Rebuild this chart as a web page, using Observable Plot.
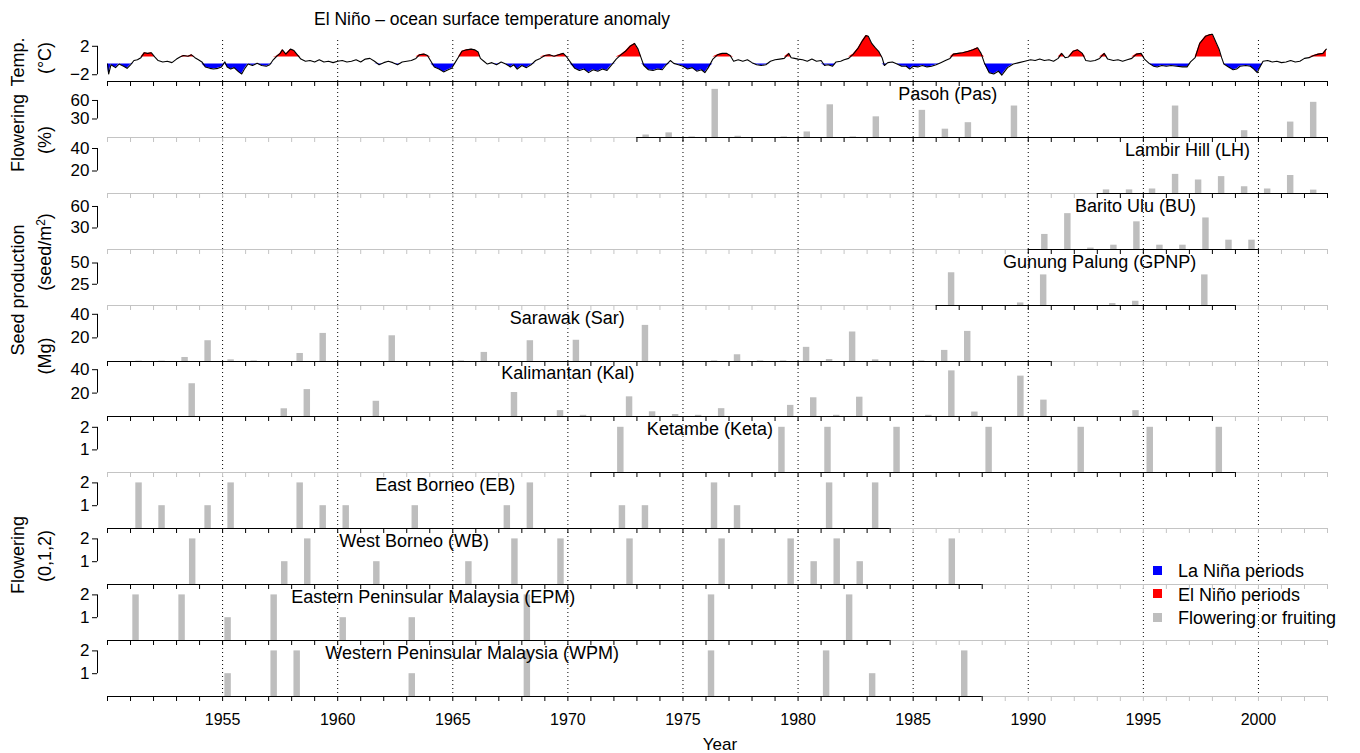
<!DOCTYPE html>
<html><head><meta charset="utf-8">
<script src="https://cdn.jsdelivr.net/npm/d3@7"></script>
<script src="https://cdn.jsdelivr.net/npm/@observablehq/plot@0.6"></script>
<style>
body{margin:0;background:#fff;font-family:"Liberation Sans",Arial,Helvetica,sans-serif;}
#wrap{position:relative;width:1360px;height:753px;overflow:hidden;background:#fff;}
.lab{position:absolute;white-space:nowrap;color:#000;transform:translate(-50%,-50%);line-height:1;}
.rot{transform:translate(-50%,-50%) rotate(-90deg);}
.leg{position:absolute;left:1153px;font-size:18px;white-space:nowrap;line-height:1;}
.leg span{display:inline-block;width:9px;height:9px;margin-right:16px;vertical-align:middle;position:relative;top:-2px;}
</style></head><body><div id="wrap"></div>
<script>
// ---------- DATA ----------
const tickYears = d3.range(1950, 2004);
const labelYears = [1955, 1960, 1965, 1970, 1975, 1980, 1985, 1990, 1995, 2000];

// Niño-3 sea surface temperature anomaly (°C): [time, anomaly]
const tempAnomaly = [
[1950.00,-0.5],[1950.05,-1.9],[1950.15,-0.6],[1950.35,-1.0],[1950.5,-0.5],[1950.7,-0.8],[1950.85,-1.1],
[1951.0,-0.6],[1951.15,0.0],[1951.3,0.1],[1951.45,0.4],[1951.6,1.1],[1951.75,1.0],[1951.9,1.1],
[1952.05,0.5],[1952.2,0.0],[1952.4,-0.2],[1952.6,-0.1],[1952.8,-0.3],[1953.0,0.2],[1953.15,0.5],
[1953.3,0.7],[1953.5,0.6],[1953.65,0.8],[1953.8,0.4],[1953.95,0.1],[1954.1,-0.2],[1954.25,-0.9],
[1954.45,-1.1],[1954.6,-1.2],[1954.8,-1.1],[1954.95,-0.9],[1955.1,-0.2],[1955.2,-0.9],[1955.35,-1.2],
[1955.5,-1.0],[1955.7,-1.6],[1955.83,-1.9],[1955.95,-1.2],[1956.1,-0.5],[1956.3,-0.7],[1956.5,-0.4],
[1956.7,-0.7],[1956.9,-0.8],[1957.05,-0.6],[1957.2,0.1],[1957.35,0.6],[1957.5,1.0],[1957.6,1.5],
[1957.75,0.9],[1957.95,1.6],[1958.1,1.4],[1958.25,0.8],[1958.4,0.2],[1958.6,-0.1],[1958.8,0.0],
[1959.0,-0.2],[1959.2,0.1],[1959.4,-0.2],[1959.6,-0.1],[1959.8,-0.3],[1960.0,-0.1],[1960.2,0.0],
[1960.4,-0.2],[1960.6,-0.1],[1960.8,0.1],[1961.0,-0.2],[1961.2,0.2],[1961.4,0.3],[1961.6,-0.1],
[1961.8,-0.6],[1962.0,-0.3],[1962.2,-0.1],[1962.4,-0.3],[1962.6,-0.6],[1962.8,-0.2],[1963.0,-0.1],
[1963.2,0.0],[1963.4,0.3],[1963.55,0.8],[1963.75,0.9],[1963.9,0.7],[1964.05,-0.1],[1964.2,-0.9],
[1964.4,-1.2],[1964.6,-1.6],[1964.8,-1.3],[1964.95,-1.1],[1965.1,-0.3],[1965.25,0.5],[1965.4,1.3],
[1965.6,1.5],[1965.8,1.6],[1965.95,1.5],[1966.1,1.2],[1966.2,0.3],[1966.35,-0.1],[1966.5,-0.5],
[1966.7,-0.3],[1966.9,-0.6],[1967.1,-0.2],[1967.3,-0.5],[1967.5,-0.9],[1967.65,-0.6],[1967.8,-1.2],
[1968.0,-0.7],[1968.2,-1.0],[1968.4,-0.6],[1968.6,0.0],[1968.8,0.3],[1969.0,0.7],[1969.2,0.8],
[1969.4,0.6],[1969.6,0.8],[1969.8,1.0],[1969.95,0.5],[1970.1,-0.2],[1970.3,-1.1],[1970.5,-1.4],
[1970.7,-1.2],[1970.9,-1.7],[1971.1,-1.3],[1971.3,-1.5],[1971.5,-1.2],[1971.7,-1.4],[1971.9,-0.6],
[1972.1,0.2],[1972.3,0.8],[1972.5,1.3],[1972.7,2.0],[1972.9,2.4],[1973.05,1.6],[1973.2,0.2],
[1973.3,-0.7],[1973.5,-1.3],[1973.7,-1.4],[1973.9,-1.2],[1974.1,-1.3],[1974.25,-0.7],[1974.45,0.0],
[1974.6,-0.4],[1974.8,-0.6],[1975.0,-0.8],[1975.2,-1.2],[1975.4,-1.0],[1975.6,-1.5],[1975.8,-1.3],
[1975.95,-1.7],[1976.1,-1.0],[1976.3,0.2],[1976.5,0.8],[1976.7,1.0],[1976.9,1.0],[1977.05,0.7],
[1977.2,-0.1],[1977.4,0.1],[1977.6,-0.1],[1977.8,0.1],[1978.0,-0.3],[1978.2,-0.6],[1978.4,-0.7],
[1978.6,-0.6],[1978.8,-0.1],[1979.0,0.1],[1979.2,0.2],[1979.4,0.3],[1979.6,1.0],[1979.7,0.4],
[1979.85,0.3],[1980.0,0.2],[1980.2,0.1],[1980.4,-0.1],[1980.6,0.2],[1980.8,-0.1],[1981.0,0.0],
[1981.15,-0.7],[1981.3,-0.6],[1981.5,-0.8],[1981.65,-0.2],[1981.85,-0.1],[1982.0,0.1],[1982.2,0.3],
[1982.4,0.9],[1982.6,1.7],[1982.8,2.8],[1982.95,3.5],[1983.05,3.4],[1983.2,2.4],[1983.35,1.8],
[1983.5,1.3],[1983.65,0.4],[1983.75,-0.7],[1983.9,-0.3],[1984.1,-0.2],[1984.3,-0.5],[1984.5,-0.8],
[1984.7,-0.8],[1984.85,-1.2],[1985.0,-0.8],[1985.2,-0.9],[1985.4,-0.7],[1985.6,-0.9],[1985.8,-0.8],
[1986.0,-0.6],[1986.2,-0.3],[1986.4,0.0],[1986.6,0.3],[1986.75,0.9],[1986.95,1.0],[1987.15,1.1],
[1987.4,1.3],[1987.6,1.5],[1987.8,1.8],[1987.95,1.0],[1988.1,-0.4],[1988.3,-1.7],[1988.5,-1.9],
[1988.7,-1.5],[1988.85,-2.05],[1989.1,-1.0],[1989.35,-0.5],[1989.6,-0.3],[1989.85,-0.1],[1990.1,0.1],
[1990.3,0.0],[1990.5,0.2],[1990.7,0.0],[1990.9,0.1],[1991.1,-0.1],[1991.3,0.3],[1991.45,1.0],
[1991.6,0.4],[1991.75,0.5],[1991.95,1.3],[1992.15,1.5],[1992.35,1.0],[1992.5,0.0],[1992.7,-0.1],
[1992.9,0.0],[1993.1,0.3],[1993.3,1.0],[1993.45,0.2],[1993.7,0.0],[1993.9,0.1],[1994.1,-0.1],
[1994.3,0.1],[1994.5,0.3],[1994.7,0.9],[1994.9,1.0],[1995.05,0.2],[1995.25,-0.4],[1995.45,-0.8],
[1995.6,-0.9],[1995.8,-0.7],[1996.0,-0.8],[1996.2,-0.7],[1996.45,-0.8],[1996.7,-0.9],[1996.9,-0.9],
[1997.05,-0.2],[1997.25,0.4],[1997.45,2.4],[1997.7,3.4],[1997.85,3.6],[1998.0,3.7],[1998.15,2.6],
[1998.3,1.5],[1998.4,0.4],[1998.5,-0.5],[1998.7,-0.9],[1998.9,-1.3],[1999.05,-1.2],[1999.2,-0.8],
[1999.45,-0.7],[1999.65,-0.8],[1999.8,-1.2],[1999.95,-1.7],[2000.05,-1.0],[2000.2,-0.1],[2000.4,0.0],
[2000.6,-0.2],[2000.8,-0.1],[2001.0,-0.3],[2001.2,-0.2],[2001.4,0.0],[2001.6,-0.2],[2001.8,-0.1],
[2002.0,0.3],[2002.2,0.4],[2002.4,0.7],[2002.6,0.9],[2002.8,1.0],[2002.95,1.6]
];
const elNinoThreshold = 0.5, laNinaThreshold = -0.5;

// Flowering (%)
const pasTime  = [1973.4,1974.4,1975.4,1976.4,1977.4,1979.4,1980.4,1981.4,1982.4,1983.4,1985.4,1986.4,1987.4,1989.4,1996.4,1999.4,2001.4,2002.4];
const pasValue = [4,7.5,1,78,2,1,9,53,1,33.5,44,13.5,24,51,51,11,25,57];
const lhTime   = [1993.4,1994.4,1995.4,1996.4,1997.4,1998.4,1999.4,2000.4,2001.4,2002.4];
const lhValue  = [3.2,3.2,4,17,12,15,6,4,16,3];
// Seed production (seed/m2)
const buTime   = [1990.72,1991.72,1992.72,1993.72,1994.72,1995.72,1996.72,1997.72,1998.72,1999.72];
const buValue  = [21,50,2,6,38.6,6,6,44,13,13];
const gpTime   = [1986.67,1989.67,1990.67,1993.67,1994.67,1997.67];
const gpValue  = [38.5,3,36,2.3,5,36];
// Seed production (Mg)
const sarTime  = [1951.37,1952.37,1953.37,1954.37,1955.37,1956.37,1958.37,1959.37,1962.37,1965.37,1966.37,1968.37,1970.37,1973.37,1976.37,1977.37,1978.37,1979.37,1980.37,1981.37,1982.37,1983.37,1985.37,1986.37,1987.37];
const sarValue = [0.3,0.3,3.4,17.6,1.4,0.5,6.8,23.8,21.8,0.5,7.7,17.6,18,30.6,0.5,5.7,0.5,0.5,12,1.7,25,1.4,0.5,9.4,25.5];
const kalTime  = [1953.68,1957.68,1958.68,1961.68,1967.68,1969.68,1970.68,1972.68,1973.68,1974.68,1975.68,1976.68,1979.68,1980.68,1981.68,1982.68,1985.68,1986.68,1987.68,1989.68,1990.68,1994.68];
const kalValue = [28,6.6,23,13,20.5,5,1,16.8,4,1.7,1,6.7,9.5,16,1,16.5,1,39,3.8,34.5,14,5];
// Flowering (0,1,2)
const ketaTime  = [1972.3,1979.3,1981.3,1984.3,1988.3,1992.3,1995.3,1998.3];
const ketaValue = [2,2,2,2,2,2,2,2];
const ebTime  = [1951.37,1952.37,1954.37,1955.37,1958.37,1959.37,1960.37,1963.37,1967.37,1968.37,1972.37,1973.37,1976.37,1977.37,1981.37,1983.37];
const ebValue = [2,1,1,2,2,1,1,1,1,2,1,1,2,1,2,2];
const wbTime  = [1953.7,1957.7,1958.7,1961.7,1965.7,1967.7,1969.7,1972.7,1976.7,1979.7,1980.7,1981.7,1982.7,1986.7];
const wbValue = [2,1,2,1,1,2,2,2,2,2,1,2,1,2];
const epmTime  = [1951.24,1953.24,1955.24,1957.24,1960.24,1963.24,1968.24,1976.24,1982.24];
const epmValue = [2,2,1,2,1,1,2,2,2];
const wpmTime  = [1955.24,1957.24,1958.24,1963.24,1968.24,1976.24,1981.24,1983.24,1987.24];
const wpmValue = [1,2,2,1,2,2,2,1,2];

const siteNames = ["Pasoh (Pas)","Lambir Hill (LH)","Barito Ulu (BU)","Gunung Palung (GPNP)","Sarawak (Sar)","Kalimantan (Kal)","Ketambe (Keta)","East Borneo (EB)","West Borneo (WB)","Eastern Peninsular Malaysia (EPM)","Western Peninsular Malaysia (WPM)"];
const recordStart = [1973,1993,1990,1986,1950,1950,1971,1950,1950,1950,1950];
const recordEnd   = [2003,2003,2000,1999,1991,1998,1999,1984,1988,1984,1988];
const axisTicks = [[30,60],[20,40],[30,60],[25,50],[20,40],[20,40],[1,2],[1,2],[1,2],[1,2],[1,2]];

// ---------- LAYOUT ----------
const wrap = document.getElementById("wrap");
const W = 1360, ML = 107, MR = 33;
const GRAY = "#c4c4c4", BAR = "#bebebe", RED = "#ff0000", BLUE = "#0000ff";
const FONT = '"Liberation Sans", Arial, Helvetica, sans-serif';
const STYLE = `overflow: visible; background: transparent; font-family: ${FONT}; font-size: 17px; color: black;`;
const XS = {domain: [1950, 2003], label: null};
const fmt = d => d < 0 ? "\u2212" + Math.abs(d) : String(d);

function addSvg(svg, top) {
  svg.style.position = "absolute";
  svg.style.left = "0px";
  svg.style.top = top + "px";
  wrap.appendChild(svg);
}

// dotted five-year guides across all panels
addSvg(Plot.plot({
  width: W, height: 655, marginLeft: ML, marginRight: MR, marginTop: 0, marginBottom: 0,
  style: STYLE, x: {...XS, axis: null},
  marks: [Plot.ruleX(labelYears, {stroke: "black", strokeWidth: 1, strokeDasharray: "1,3"})]
}), 40);

function baseAxisMarks(range) {
  const inR = y => y >= range[0] && y <= range[1];
  return [
    Plot.axisX({ticks: tickYears.filter(y => !inR(y)), tickSize: 5, fill: "none", stroke: GRAY, label: null}),
    Plot.axisX({ticks: tickYears.filter(inR), tickSize: 5, fill: "none", stroke: "black", label: null})
  ];
}

// temperature panel
const tempDomain = [-2.95, 4.5];
addSvg(Plot.plot({
  width: W, height: 61, marginLeft: ML, marginRight: MR, marginTop: 0, marginBottom: 8,
  style: STYLE, x: XS, y: {domain: tempDomain, label: null},
  marks: [
    Plot.areaY(tempAnomaly, {x: d => d[0], y1: elNinoThreshold, y2: d => Math.max(d[1], elNinoThreshold), fill: RED}),
    Plot.areaY(tempAnomaly, {x: d => d[0], y1: laNinaThreshold, y2: d => Math.min(d[1], laNinaThreshold), fill: BLUE}),
    Plot.line(tempAnomaly, {x: d => d[0], y: d => d[1], stroke: "black", strokeWidth: 1.1}),
    Plot.ruleY([tempDomain[0]], {stroke: "black"}),
    ...baseAxisMarks([1950, 2003]),
    Plot.ruleX([1950], {y1: -2, y2: 2, dx: -10, stroke: "black"}),
    Plot.axisY({ticks: [-2, 2], tickFormat: fmt, tickSize: 5, tickPadding: 3, dx: -10, fontSize: 17, label: null})
  ]
}), 28);

const panels = [
  {time: pasTime, value: pasValue, base: 137, ppu: 0.617, lx: 1986.5},
  {time: lhTime, value: lhValue, base: 193, ppu: 1.125, lx: 1996.92},
  {time: buTime, value: buValue, base: 249, ppu: 0.717, lx: 1994.66},
  {time: gpTime, value: gpValue, base: 305, ppu: 0.85, lx: 1993.1},
  {time: sarTime, value: sarValue, base: 360.5, ppu: 1.18, lx: 1969.97},
  {time: kalTime, value: kalValue, base: 416, ppu: 1.17, lx: 1970.0},
  {time: ketaTime, value: ketaValue, base: 472, ppu: 22.6, lx: 1976.17},
  {time: ebTime, value: ebValue, base: 528, ppu: 22.8, lx: 1964.67},
  {time: wbTime, value: wbValue, base: 584, ppu: 22.8, lx: 1963.32},
  {time: epmTime, value: epmValue, base: 640, ppu: 22.8, lx: 1964.15},
  {time: wpmTime, value: wpmValue, base: 695.5, ppu: 22.8, lx: 1965.84}
];

panels.forEach((p, i) => {
  const last = i === panels.length - 1;
  const FH = 52, MB = last ? 40 : 8;
  const data = p.time.map((t, j) => ({t, v: p.value[j]}));
  const range = [recordStart[i], recordEnd[i]];
  const tk = axisTicks[i];
  const marks = [
    Plot.ruleY([0], {stroke: GRAY}),
    Plot.ruleY([0], {x1: range[0], x2: range[1], stroke: "black"}),
    ...baseAxisMarks(range),
    Plot.rect(data, {x1: d => d.t - 0.14, x2: d => d.t + 0.14, y1: 0, y2: "v", fill: BAR}),
    Plot.ruleX([1950], {y1: tk[0], y2: tk[1], dx: -10, stroke: "black"}),
    Plot.axisY({ticks: tk, tickFormat: fmt, tickSize: 5, tickPadding: 3, dx: -10, fontSize: 17, label: null}),
    Plot.text([siteNames[i]], {x: p.lx, frameAnchor: "bottom", dy: -37.5, fontSize: 18, fill: "black"})
  ];
  if (last) marks.push(Plot.axisX({ticks: labelYears, tickFormat: fmt, tickSize: 0, tickPadding: 17, fontSize: 16, label: null}));
  addSvg(Plot.plot({
    width: W, height: FH + MB, marginLeft: ML, marginRight: MR, marginTop: 0, marginBottom: MB,
    style: STYLE, x: XS, y: {domain: [0, FH / p.ppu], label: null},
    marks
  }), p.base - FH);
});

// ---------- TEXT ----------
function lab(html, x, y, size, rot) {
  const d = document.createElement("div");
  d.className = "lab" + (rot ? " rot" : "");
  d.style.left = x + "px"; d.style.top = y + "px"; d.style.fontSize = size + "px";
  d.innerHTML = html;
  wrap.appendChild(d);
}
lab("El Niño – ocean surface temperature anomaly", 492, 20, 17.5);
lab("Year", 720, 744, 17);
lab("Temp.", 18, 62, 18, true);
lab("(°C)", 45, 58, 18, true);
lab("Flowering", 18, 133, 18, true);
lab("(%)", 45, 140, 18, true);
lab("Seed production", 18, 290, 18, true);
lab("(seed/m<sup style='font-size:12px;vertical-align:6px;line-height:0'>2</sup>)", 45, 252, 18, true);
lab("(Mg)", 45, 356, 18, true);
lab("Flowering", 18, 555, 18, true);
lab("(0,1,2)", 45, 556, 18, true);

const legendItems = [["La Niña periods", BLUE], ["El Niño periods", RED], ["Flowering or fruiting", BAR]];
legendItems.forEach(([t, c], i) => {
  const d = document.createElement("div");
  d.className = "leg";
  d.style.top = (562 + i * 23.5) + "px";
  d.innerHTML = `<span style="background:${c}"></span>${t}`;
  wrap.appendChild(d);
});
</script></body></html>
